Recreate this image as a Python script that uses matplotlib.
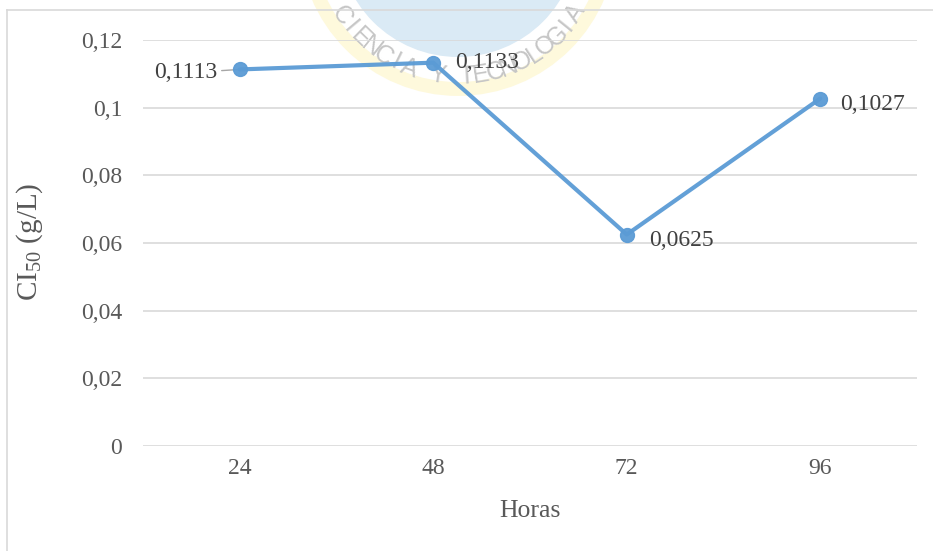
import numpy as np
import matplotlib
matplotlib.use("Agg")
import matplotlib.pyplot as plt
from matplotlib.patches import Circle
from matplotlib.lines import Line2D

hours = ["24", "48", "72", "96"]
ci50 = [0.1113, 0.1133, 0.0625, 0.1027]
value_labels = ["0,1113", "0,1133", "0,0625", "0,1027"]
yticks = [0, 0.02, 0.04, 0.06, 0.08, 0.10, 0.12]
ytick_labels = ["0", "0,02", "0,04", "0,06", "0,08", "0,1", "0,12"]

plt.rcParams['font.family'] = ['Liberation Serif', 'DejaVu Serif']
plt.rcParams['mathtext.fontset'] = 'custom'
plt.rcParams['mathtext.rm'] = 'Liberation Serif'
plt.rcParams['mathtext.it'] = 'Liberation Serif:italic'

W, H = 933, 551
fig = plt.figure(figsize=(W/100, H/100), dpi=100)

# watermark overlay (pixel coordinates)
wm = fig.add_axes([0, 0, 1, 1], zorder=0)
wm.set_xlim(0, W); wm.set_ylim(H, 0); wm.axis('off')
cx, cy = 458, -63
wm.add_patch(Circle((cx, cy), 152, facecolor='none', edgecolor='#FEF9DC', lw=10))
wm.add_patch(Circle((cx, cy), 120, facecolor='#DAEAF5', edgecolor='none'))
text = "CIENCIA Y TECNOLOGIA"
r = 140
angs = np.linspace(-56, 57, len(text))
for ch, a in zip(text, angs):
    th = np.deg2rad(a)
    x = cx + r*np.sin(th)
    y = cy + r*np.cos(th)
    wm.text(x, y, ch, rotation=a, ha='center', va='center', fontsize=18,
            color='#C6C6C6', family='Liberation Sans', rotation_mode='anchor')

# outer border
fig.add_artist(Line2D([7/W, 7/W], [0, 1-10/H], color='#D9D9D9', lw=1.2))
fig.add_artist(Line2D([7/W, 1], [1-10/H, 1-10/H], color='#D9D9D9', lw=1.2))

ax = fig.add_axes([143/W, 1-446/H, (917-143)/W, (446-40)/H], zorder=1)
ax.patch.set_alpha(0)
x = np.arange(len(hours))
ax.plot(x, ci50, color='#5B9BD5', lw=3, marker='o', markersize=10,
        solid_capstyle='round', zorder=3, alpha=0.95)
ax.set_xlim(-0.5, len(hours)-0.5)
ax.set_ylim(0, 0.12)
ax.set_yticks(yticks)
ax.set_yticklabels(ytick_labels)
ax.set_xticks(x)
ax.set_xticklabels(hours)
ax.tick_params(length=0, labelsize=17, labelcolor='#595959')
ax.tick_params(axis='y', pad=15)
ax.tick_params(axis='x', pad=9)
for s in ax.spines.values():
    s.set_visible(False)
ax.grid(axis='y', color='#D9D9D9', lw=1.2)
ax.set_axisbelow(True)
ax.set_xlabel('Horas', fontsize=18.5, color='#595959', va='center')
ax.xaxis.set_label_coords(0.5, (446-511)/406)
ax.set_ylabel(r'CI$_{50}$ (g/L)', fontsize=21, color='#595959', va='center')
ax.yaxis.set_label_coords((30-143)/774, (446-242)/406)

offsets = [(-16, -2.5, 'right'), (16, 0, 'left'),
           (16, -4, 'left'), (14, -4, 'left')]
for i, (v, lab) in enumerate(zip(ci50, value_labels)):
    dx, dy, ha = offsets[i]
    kw = {}
    if i == 0:
        kw['arrowprops'] = dict(arrowstyle='-', color='#A6A6A6', lw=1,
                                shrinkA=1, shrinkB=0)
    ax.annotate(lab, (x[i], v), xytext=(dx, dy), textcoords='offset points',
                ha=ha, va='center', fontsize=17, color='#404040', zorder=2, **kw)

fig.savefig('out.png', dpi=100)
